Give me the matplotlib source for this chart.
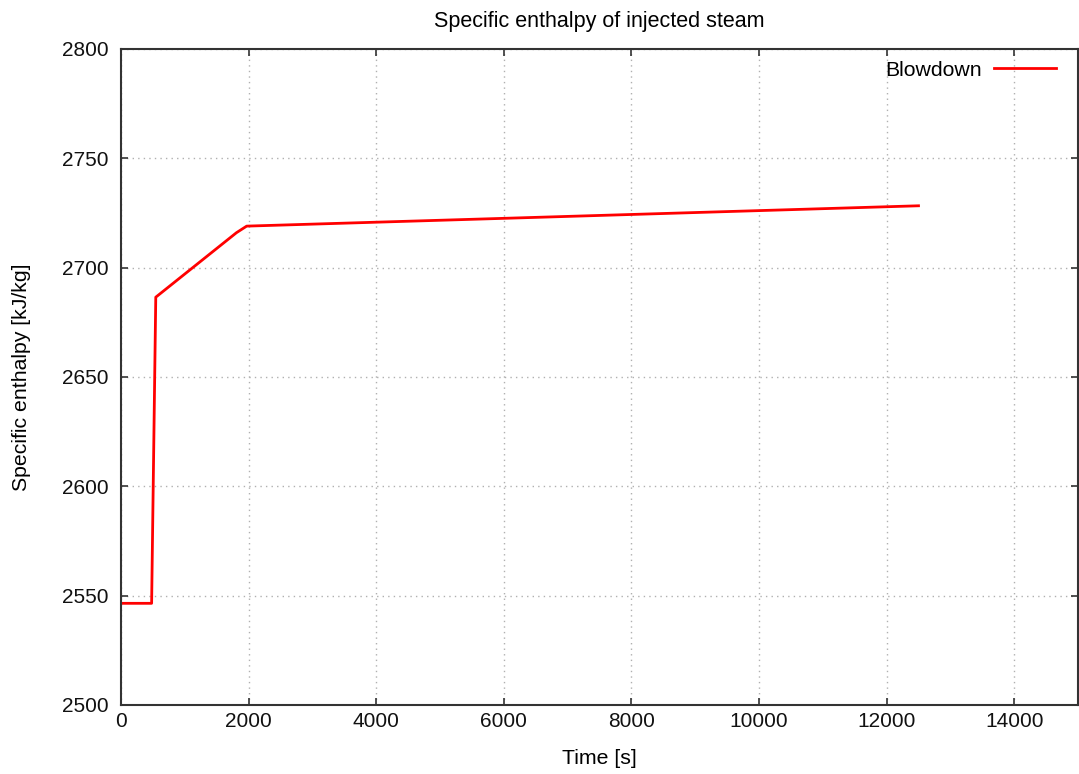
import matplotlib
matplotlib.use("Agg")
import matplotlib.pyplot as plt

# Blowdown: specific enthalpy of injected steam vs time
TIME = [0, 480, 545, 1810, 1970, 12500]
ENTHALPY = [2546.5, 2546.5, 2686.5, 2716.0, 2719.0, 2728.3]

plt.rcParams["font.family"] = ["Liberation Sans", "DejaVu Sans"]

fig = plt.figure(figsize=(10.79, 7.74), dpi=100)
ax = fig.add_axes([121/1079, 69/774, 957/1079, 656/774])

ax.plot(TIME, ENTHALPY, color="#ff0000", lw=2, label="Blowdown")

ax.set_xlim(0, 15000)
ax.set_ylim(2500, 2800)
ax.set_xticks(range(0, 15000, 2000))
ax.set_yticks(range(2500, 2801, 50))
ax.tick_params(direction="in", top=True, right=True, length=5, width=1.2,
               labelsize=15, pad=9, colors="#333333", labelcolor="#111111")
ax.tick_params(axis="x", pad=5)
for s in ax.spines.values():
    s.set_linewidth(1.5)
    s.set_color("#333333")
ax.grid(True, ls=(0, (1, 3)), color="#b0b0b0", lw=1)
ax.set_axisbelow(True)

ax.set_xlabel("Time [s]", fontsize=15.3, labelpad=13)
ax.set_ylabel("Specific enthalpy [kJ/kg]", fontsize=15.3, labelpad=22)
ax.set_title("Specific enthalpy of injected steam", fontsize=15.5, pad=16)

ax.legend(loc="upper right", bbox_to_anchor=(0.977, 0.982), frameon=False,
          markerfirst=False, fontsize=15.3, handlelength=2.9,
          handletextpad=0.6, borderaxespad=0.0, borderpad=0.0)

fig.savefig("out.png", dpi=100)
